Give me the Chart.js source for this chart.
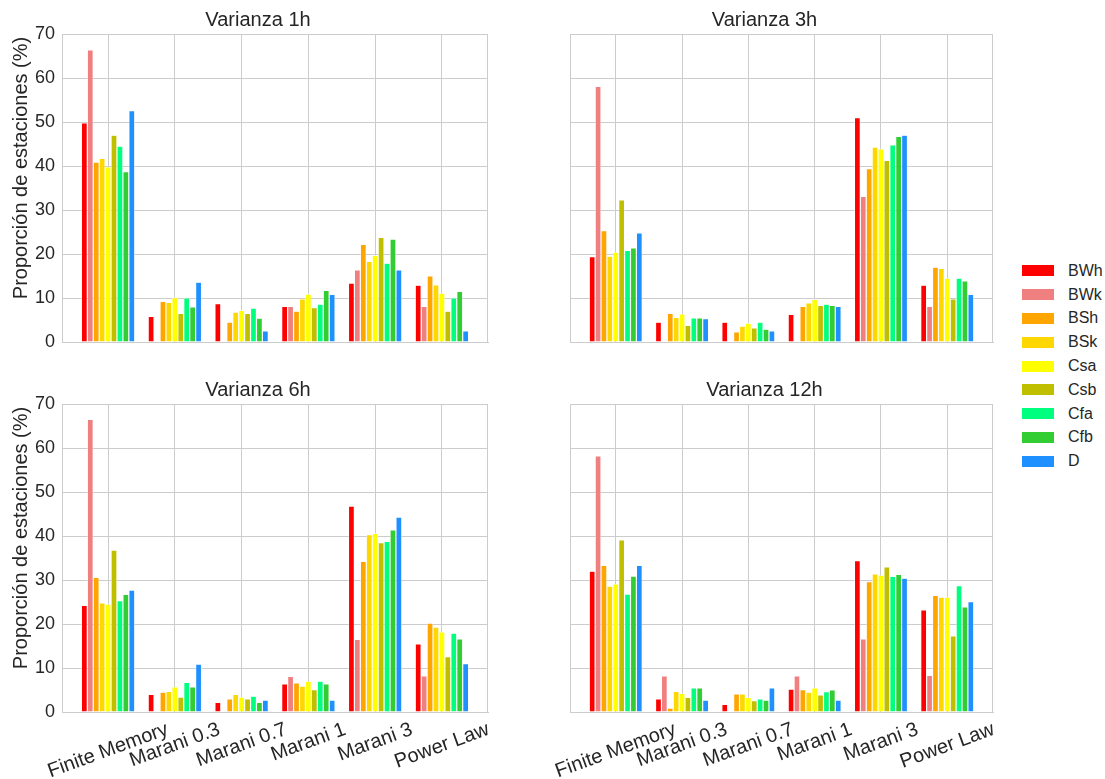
<!DOCTYPE html>
<html>
<head>
<meta charset="utf-8">
<script src="https://cdn.jsdelivr.net/npm/chart.js@4.4.0/dist/chart.umd.min.js"></script>
<style>
  body { margin: 0; background: #fff; width: 1105px; height: 779px; overflow: hidden; position: relative;
         font-family: "Liberation Sans", Arial, sans-serif; }
  canvas { position: absolute; }
  #legend { position: absolute; left: 1022px; top: 259px; }
  .item { height: 23.8px; display: flex; align-items: center; font-size: 16px; color: #262626; }
  .sw { width: 32px; height: 11px; margin-right: 14px; }
</style>
</head>
<body>
<canvas id="c1" width="490" height="360" style="left:0;top:0"></canvas>
<canvas id="c2" width="475" height="360" style="left:520px;top:0"></canvas>
<canvas id="c3" width="490" height="409" style="left:0;top:370px"></canvas>
<canvas id="c4" width="475" height="409" style="left:520px;top:370px"></canvas>
<div id="legend"></div>
<script>
// categorías y series
const CATEGORIES = ["Finite Memory", "Marani 0.3", "Marani 0.7", "Marani 1", "Marani 3", "Power Law"];
const SERIES = ["BWh", "BWk", "BSh", "BSk", "Csa", "Csb", "Cfa", "Cfb", "D"];
const COLORS = ["#ff0000", "#f08080", "#ffa500", "#ffd700", "#ffff00", "#bfbf00", "#00ff7f", "#32cd32", "#1e90ff"];
const Y_TICKS = [0, 10, 20, 30, 40, 50, 60, 70];
const Y_LABEL = "Proporción de estaciones (%)";

// valores por panel: una fila por serie (mismo orden que SERIES)
const var1h = [
  [49.8, 5.8, 8.7, 8.1, 13.4, 12.9],
  [66.4, 0, 0, 8.1, 16.4, 8.1],
  [40.9, 9.2, 4.5, 7.0, 22.2, 15.0],
  [41.7, 9.0, 6.8, 9.8, 18.3, 13.0],
  [39.8, 10.1, 7.2, 10.9, 19.7, 11.1],
  [47.0, 6.5, 6.5, 7.8, 23.8, 7.0],
  [44.5, 10.0, 7.7, 8.6, 17.9, 10.0],
  [38.7, 8.0, 5.4, 11.7, 23.4, 11.5],
  [52.6, 13.6, 2.5, 10.8, 16.4, 2.5],
];
const var3h = [
  [19.4, 4.5, 4.5, 6.3, 51.0, 12.9],
  [58.1, 0, 0, 0, 33.1, 8.1],
  [25.3, 6.5, 2.3, 8.1, 39.4, 17.0],
  [19.5, 5.6, 3.6, 8.9, 44.3, 16.7],
  [20.4, 6.4, 4.3, 9.7, 43.9, 14.5],
  [32.3, 3.8, 3.2, 8.3, 41.3, 9.8],
  [20.8, 5.5, 4.5, 8.6, 44.8, 14.5],
  [21.4, 5.5, 2.9, 8.3, 46.7, 13.9],
  [24.8, 5.3, 2.5, 8.1, 47.0, 10.8],
];
const var6h = [
  [24.2, 4.0, 2.2, 6.4, 46.8, 15.5],
  [66.5, 0, 0, 8.1, 16.5, 8.2],
  [30.6, 4.5, 3.0, 6.6, 34.2, 20.2],
  [24.8, 4.7, 4.0, 5.9, 40.3, 19.3],
  [24.5, 5.7, 3.4, 7.0, 40.6, 18.2],
  [36.8, 3.4, 3.0, 5.1, 38.5, 12.6],
  [25.3, 6.7, 3.6, 7.0, 38.8, 17.9],
  [26.7, 5.7, 2.2, 6.4, 41.4, 16.6],
  [27.7, 10.9, 2.7, 2.7, 44.3, 11.0],
];
const var12h = [
  [32.0, 3.0, 1.7, 5.2, 34.4, 23.2],
  [58.2, 8.2, 0, 8.2, 16.6, 8.3],
  [33.3, 0.9, 4.1, 5.1, 29.6, 26.5],
  [28.6, 4.7, 4.1, 4.5, 31.4, 26.1],
  [29.1, 4.2, 3.3, 5.5, 31.1, 26.1],
  [39.1, 3.3, 2.6, 3.9, 33.0, 17.3],
  [26.8, 5.5, 3.0, 4.6, 30.8, 28.7],
  [30.9, 5.5, 2.7, 5.0, 31.3, 23.9],
  [33.3, 2.7, 5.5, 2.7, 30.4, 25.1],
];

const FONT = '"Liberation Sans", Arial, sans-serif';
const TEXT = "#262626";
const GRID = "#cccccc";
Chart.defaults.font.family = FONT;

// título, marco derecho, etiquetas x rotadas (centradas) y título del eje y
const extraText = {
  id: "extraText",
  afterDraw(chart, args, o) {
    const ctx = chart.ctx, a = chart.chartArea;
    ctx.save();
    ctx.strokeStyle = GRID;
    ctx.lineWidth = 1;
    ctx.beginPath();
    ctx.moveTo(Math.round(a.right) - 0.5, a.top);
    ctx.lineTo(Math.round(a.right) - 0.5, a.bottom);
    ctx.stroke();
    ctx.fillStyle = TEXT;
    ctx.font = "20px " + FONT;
    ctx.textAlign = "center";
    ctx.textBaseline = "middle";
    ctx.fillText(o.title, (a.left + a.right) / 2 - 17, 20);
    if (o.bottom) {
      const th = 20 * Math.PI / 180;
      const xs = chart.scales.x;
      CATEGORIES.forEach((c, i) => {
        const w = ctx.measureText(c).width;
        const h = w * Math.sin(th) + 19 * Math.cos(th);
        ctx.save();
        ctx.translate(xs.getPixelForValue(i), a.bottom + 8 + h / 2);
        ctx.rotate(-th);
        ctx.fillText(c, 0, 0);
        ctx.restore();
      });
    }
    if (o.left) {
      ctx.save();
      ctx.translate(21, 168);
      ctx.rotate(-Math.PI / 2);
      ctx.fillText(Y_LABEL, 0, 0);
      ctx.restore();
    }
    ctx.restore();
  },
};

function makeChart(id, title, values, left, bottom) {
  return new Chart(document.getElementById(id), {
    type: "bar",
    data: {
      datasets: SERIES.map((name, s) => ({
        label: name,
        data: values[s].map((v, i) => ({ x: i, y: v })),
        backgroundColor: COLORS[s],
        borderColor: "#ffffff",
        borderWidth: 0.6,
        borderSkipped: "start",
        categoryPercentage: 0.8,
        barPercentage: 1.0,
      })),
    },
    options: {
      responsive: false,
      animation: false,
      layout: { padding: { top: 34, right: 2 } },
      plugins: {
        legend: { display: false },
        tooltip: { enabled: false },
        title: { display: false },
        extraText: { title, left, bottom },
      },
      scales: {
        x: {
          type: "linear",
          min: -0.69,
          max: 5.69,
          offset: false,
          afterBuildTicks: s => { s.ticks = CATEGORIES.map((c, i) => ({ value: i })); },
          afterFit: s => { s.height = bottom ? 67 : 18; },
          ticks: { display: false },
          grid: { color: GRID, drawTicks: false, offset: false },
          border: { color: GRID },
        },
        y: {
          min: 0,
          max: 70,
          afterBuildTicks: s => { s.ticks = Y_TICKS.map(v => ({ value: v })); },
          afterFit: s => { s.width = left ? 62 : 50; },
          ticks: { display: left, color: TEXT, font: { size: 18 }, padding: 7 },
          grid: { color: GRID, drawTicks: false },
          border: { color: GRID },
        },
      },
    },
    plugins: [extraText],
  });
}

makeChart("c1", "Varianza 1h", var1h, true, false);
makeChart("c2", "Varianza 3h", var3h, false, false);
makeChart("c3", "Varianza 6h", var6h, true, true);
makeChart("c4", "Varianza 12h", var12h, false, true);

// leyenda
document.getElementById("legend").innerHTML = SERIES.map((name, s) =>
  `<div class="item"><span class="sw" style="background:${COLORS[s]}"></span>${name}</div>`
).join("");
</script>
</body>
</html>
